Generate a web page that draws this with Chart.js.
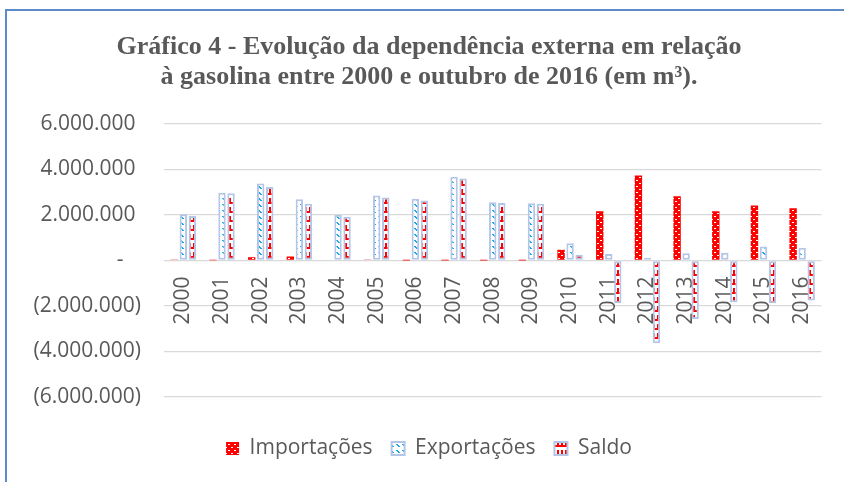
<!DOCTYPE html>
<html>
<head>
<meta charset="utf-8">
<script src="https://cdn.jsdelivr.net/npm/chart.js@4.4.0/dist/chart.umd.min.js"></script>
<style>
html, body { margin: 0; padding: 0; background: #fff; }
#wrap { position: relative; width: 844px; height: 482px; overflow: hidden; }
#frame { position: absolute; left: 5px; top: 9px; width: 900px; height: 600px; border: 2px solid #5b8bc9; pointer-events: none; }
</style>
</head>
<body>
<div id="wrap">
  <canvas id="myChart"></canvas>
  <div id="frame"></div>
</div>
<script>
var years = ['2000', '2001', '2002', '2003', '2004', '2005', '2006', '2007', '2008',
             '2009', '2010', '2011', '2012', '2013', '2014', '2015', '2016'];
var importacoes = [20000, 10000, 145000, 180000, 30000, 20000, 5000, 5000, 5000,
                   5000, 470000, 2170000, 3740000, 2820000, 2170000, 2420000, 2300000];
var exportacoes = [2030000, 2980000, 3380000, 2690000, 2010000, 2860000, 2720000, 3680000, 2560000,
                   2520000, 760000, 290000, 120000, 320000, 340000, 620000, 560000];
var saldo = [1960000, 2960000, 3230000, 2500000, 1920000, 2770000, 2640000, 3600000, 2530000,
             2490000, 250000, -1880000, -3640000, -2570000, -1840000, -1880000, -1760000];
var yTicks = [-6000000, -4000000, -2000000, 0, 2000000, 4000000, 6000000];

var grey = '#595959';

// small tile patterns, like the Excel fills
function makePattern(w, h, bg, draw) {
    var c = document.createElement('canvas');
    c.width = w;
    c.height = h;
    var g = c.getContext('2d');
    g.fillStyle = bg;
    g.fillRect(0, 0, w, h);
    draw(g);
    return g.createPattern(c, 'repeat');
}
var ctx = document.getElementById('myChart').getContext('2d');

var impFill = makePattern(6, 6, '#ff0000', function (g) {
    g.fillStyle = '#ffffff';
    g.fillRect(0, 0, 2, 1);
    g.fillRect(3, 3, 2, 1);
});
var expFill = makePattern(6, 6, '#ffffff', function (g) {
    g.fillStyle = '#1aa7e6';
    g.fillRect(0, 0, 2, 1);
    g.fillRect(1, 1, 2, 1);
    g.fillRect(2, 2, 2, 1);
});
var saldoFill = makePattern(4, 9, '#ffffff', function (g) {
    g.fillStyle = '#ff0000';
    g.fillRect(1, 0, 2, 4);
    g.fillRect(0, 4, 4, 2);
});

function fmt(v) {
    if (v === 0) return '-\u2007 ';
    var s = Math.abs(v).toString().replace(/\B(?=(\d{3})+(?!\d))/g, '.');
    return v < 0 ? '(' + s + ')' : s + ' ';
}

var myChart = new Chart(ctx, {
    type: 'bar',
    data: {
        labels: years,
        datasets: [{
            label: 'Importações',
            data: importacoes,
            backgroundColor: impFill,
            borderWidth: 0
        }, {
            label: 'Exportações',
            data: exportacoes,
            backgroundColor: expFill,
            borderColor: '#b4c6e7',
            borderWidth: 2,
            borderSkipped: false
        }, {
            label: 'Saldo',
            data: saldo,
            backgroundColor: saldoFill,
            borderColor: '#b4c6e7',
            borderWidth: 2,
            borderSkipped: false
        }]
    },
    options: {
        responsive: true,
        maintainAspectRatio: false,
        animation: false,
        categoryPercentage: 0.7,
        barPercentage: 0.82,
        layout: { padding: { top: 0, left: 14, right: 0, bottom: 13 } },
        plugins: {
            title: {
                display: true,
                text: ['Gráfico 4 - Evolução da dependência externa em relação',
                       'à gasolina entre 2000 e outubro de 2016 (em m³).'],
                color: grey,
                font: { family: 'Liberation Serif', size: 26, weight: 'bold', lineHeight: 1.154 },
                padding: { top: 32, bottom: 32 }
            },
            // empty spacer between the plot and the legend
            subtitle: {
                display: true,
                text: '',
                position: 'bottom',
                weight: 500,
                font: { size: 22, lineHeight: 1 },
                padding: 0
            },
            legend: {
                position: 'bottom',
                labels: {
                    boxWidth: 13,
                    boxHeight: 13,
                    padding: 19,
                    color: grey,
                    font: { family: 'Open Sans', size: 21 }
                }
            },
            tooltip: { enabled: false }
        },
        scales: {
            x: {
                position: { y: 0 },
                offset: true,
                grid: { display: false, drawTicks: false },
                border: { display: false },
                ticks: {
                    autoSkip: false,
                    minRotation: 90,
                    maxRotation: 90,
                    padding: 16,
                    color: grey,
                    font: { family: 'Open Sans', size: 21 }
                }
            },
            y: {
                min: yTicks[0],
                max: yTicks[yTicks.length - 1],
                ticks: {
                    stepSize: yTicks[1] - yTicks[0],
                    padding: 23,
                    color: grey,
                    font: { family: 'Open Sans', size: 21 },
                    callback: fmt
                },
                grid: { color: '#d9d9d9', lineWidth: 1.3, drawTicks: false },
                border: { display: false },
                afterFit: function (s) { s.width = 150; }
            },
            // blank right margin so the title and legend sit centred like the original
            yRight: {
                position: 'right',
                grid: { display: false },
                border: { display: false },
                ticks: { display: false },
                afterFit: function (s) { s.width = 22; }
            }
        }
    }
});
</script>
</body>
</html>
